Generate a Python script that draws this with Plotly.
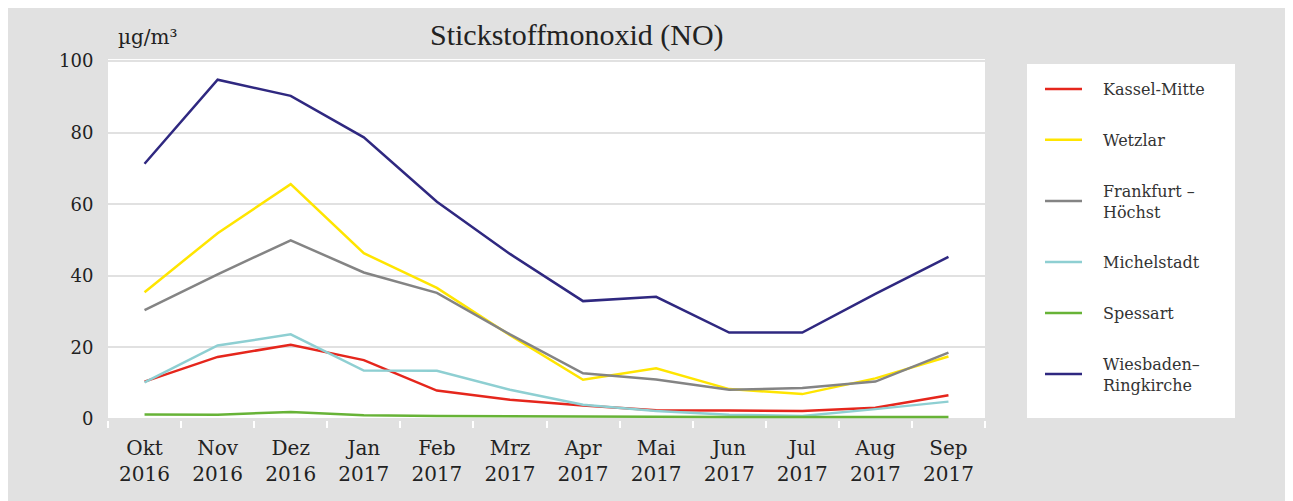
import plotly.graph_objects as go

months = ["Okt<br>2016", "Nov<br>2016", "Dez<br>2016", "Jan<br>2017", "Feb<br>2017", "Mrz<br>2017",
          "Apr<br>2017", "Mai<br>2017", "Jun<br>2017", "Jul<br>2017", "Aug<br>2017", "Sep<br>2017"]

kassel = [10.4, 17.3, 20.7, 16.4, 7.9, 5.3, 3.7, 2.4, 2.3, 2.2, 3.1, 6.6]
wetzlar = [35.4, 51.9, 65.6, 46.3, 36.6, 23.4, 10.9, 14.1, 8.3, 6.9, 11.3, 17.4]
frankfurt = [30.4, 40.4, 49.9, 40.9, 35.2, 23.6, 12.7, 11.0, 8.1, 8.6, 10.4, 18.5]
michelstadt = [10.2, 20.5, 23.6, 13.5, 13.4, 8.1, 3.9, 2.2, 1.1, 0.8, 2.7, 4.8]
spessart = [1.2, 1.15, 1.9, 1.0, 0.8, 0.7, 0.5, 0.5, 0.5, 0.5, 0.5, 0.5]
wiesbaden = [71.3, 94.8, 90.3, 78.7, 60.7, 46.1, 32.9, 34.1, 24.1, 24.1, 34.9, 45.3]

series_names = ["Kassel-Mitte", "Wetzlar", "Frankfurt –<br>Höchst", "Michelstadt", "Spessart",
                "Wiesbaden–<br>Ringkirche"]
series_values = [kassel, wetzlar, frankfurt, michelstadt, spessart, wiesbaden]
series_colors = ["#e5261c", "#ffe500", "#848484", "#8ecfd2", "#67b337", "#2f2880"]

y_ticks = [0, 20, 40, 60, 80, 100]

# the page adds an 8 px body margin; work in page pixels and convert
OFF = 8
W, H = 1293 - OFF, 501 - OFF
L, R, T, B = 108 - OFF, 985 - OFF, 59 - OFF, 420 - OFF  # plot area in figure pixels


def px(x):
    return (x - OFF - L) / (R - L)


def py(y):
    return (B - (y - OFF)) / (B - T)


# visual gap between legend sample and text
GAP = "\u2002\u2002"

fig = go.Figure()
for i, (name, vals, col) in enumerate(zip(series_names, series_values, series_colors)):
    fig.add_trace(go.Scatter(
        x=months, y=vals,
        name=GAP + name.replace("<br>", "<br>" + GAP),
        mode="lines",
        line=dict(color=col, width=2.5),
        legendgroup=f"g{i}",
    ))

serif = "DejaVu Serif"

fig.update_layout(
    width=W, height=H,
    margin=dict(l=L, r=W - R, t=T, b=H - B, pad=0),
    paper_bgcolor="#e1e1e1",
    plot_bgcolor="#ffffff",
    showlegend=True,
    legend=dict(
        x=px(1040), y=py(72), xanchor="left", yanchor="top",
        bgcolor="rgba(0,0,0,0)",
        font=dict(family=serif, size=16, color="#333333"),
        tracegroupgap=27,
        itemwidth=37,
    ),
    xaxis=dict(
        range=[-0.5, 11.5],
        tickson="boundaries",
        ticks="outside", ticklen=7, tickwidth=2, tickcolor="#ffffff",
        ticklabelstandoff=14,
        showgrid=False, zeroline=False, showline=False,
        tickfont=dict(family=serif, size=20, color="#222222"),
    ),
    yaxis=dict(
        range=[-0.34, 100.6],
        tickvals=y_ticks,
        ticks="outside", ticklen=10, tickcolor="rgba(0,0,0,0)",
        showgrid=True, gridcolor="#e1e1e1", gridwidth=2,
        zeroline=False, showline=False,
        tickfont=dict(family=serif, size=18, color="#222222"),
    ),
    shapes=[
        # legend box
        dict(type="rect", xref="paper", yref="paper", x0=px(1027), x1=px(1235), y0=py(418), y1=py(64),
             fillcolor="#ffffff", line=dict(width=0), layer="below"),
    ],
    annotations=[
        dict(text="Stickstoffmonoxid (NO)", xref="paper", yref="paper", x=px(577), y=py(35),
             xanchor="center", yanchor="middle", showarrow=False,
             font=dict(family="Liberation Serif", size=30, color="#222222")),
        dict(text="µg/m³", xref="paper", yref="paper", x=px(116), y=py(37),
             xanchor="left", yanchor="middle", showarrow=False,
             font=dict(family=serif, size=20, color="#222222")),
    ],
)

fig.write_html("out.html")
